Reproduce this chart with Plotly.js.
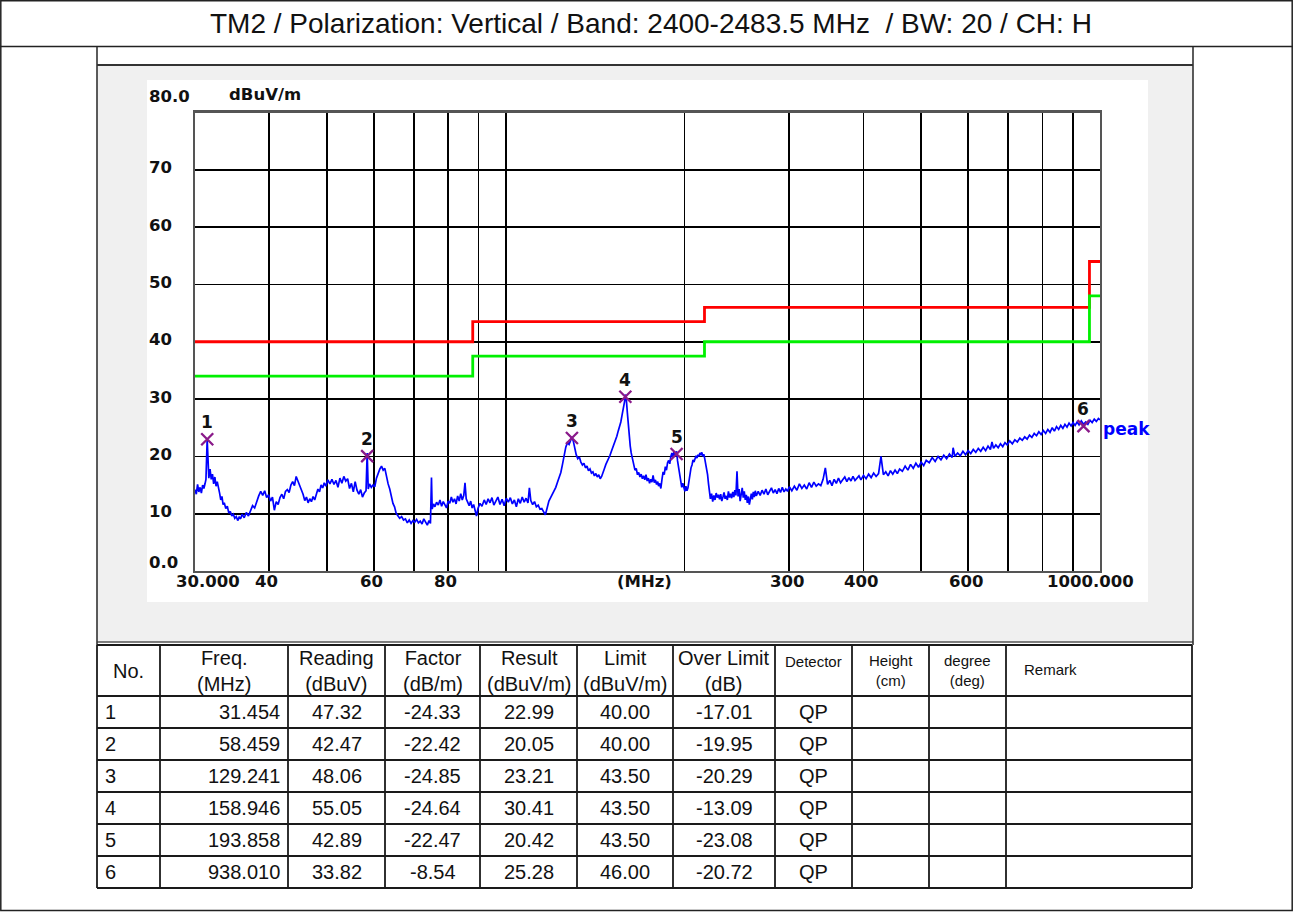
<!DOCTYPE html>
<html>
<head>
<meta charset="utf-8">
<script src="https://cdn.plot.ly/plotly-3.0.1.min.js"></script>
<style>html,body{margin:0;padding:0;background:#fff;}#chart{width:1293px;height:912px;}</style>
</head>
<body>
<div id="chart"></div>
<script>
// ---------------- DATA ----------------
const chartTitle = 'TM2 / Polarization: Vertical / Band: 2400-2483.5 MHz  / BW: 20 / CH: H';

// scanned peak trace: [frequency MHz, level dBuV/m]
const scanPoints = [
[30.0,14.2],[30.15,13.4],[30.3,15.1],[30.45,13.8],[30.6,14.6],[30.75,13.6],[30.9,15.0],[31.05,14.4],[31.2,15.3],[31.3,16.0],
[31.45,23.0],[31.55,18.5],[31.65,16.2],[31.8,17.8],[31.95,16.0],[32.1,16.9],[32.25,15.2],[32.4,16.4],[32.55,14.8],[32.7,15.6],
[32.85,14.2],[33.0,13.6],[33.15,12.4],[33.3,13.0],[33.45,11.6],[33.6,11.9],[33.8,10.9],[34.0,11.3],[34.2,10.1],[34.4,10.4],
[34.6,9.6],[34.8,9.9],[35.0,9.2],[35.2,9.5],[35.4,8.8],[35.6,9.4],[35.8,9.1],[36.0,9.9],[36.3,9.3],[36.6,10.2],
[36.9,9.6],[37.2,10.5],[37.5,11.4],[37.8,11.0],[38.1,12.3],[38.4,13.1],[38.7,13.9],[39.0,13.2],[39.3,14.0],[39.6,12.8],
[39.9,13.3],[40.2,12.2],[40.5,12.9],[40.8,10.6],[41.1,12.1],[41.4,11.6],[41.7,12.8],[42.0,13.4],[42.3,12.6],[42.6,13.9],
[42.9,14.2],[43.2,13.7],[43.5,15.0],[43.8,15.6],[44.1,14.9],[44.4,16.5],[44.7,15.7],[45.0,15.0],[45.3,14.2],[45.6,13.4],
[45.9,12.3],[46.2,12.9],[46.5,11.9],[46.8,12.6],[47.1,12.1],[47.4,13.0],[47.7,12.4],[48.0,13.6],[48.3,14.3],[48.6,13.8],
[48.9,15.0],[49.2,14.5],[49.5,15.4],[49.8,14.8],[50.2,15.9],[50.6,15.2],[51.0,16.0],[51.4,15.1],[51.8,15.8],[52.2,14.6],
[52.6,16.2],[53.0,15.3],[53.4,16.5],[53.8,15.7],[54.2,16.1],[54.6,14.4],[55.0,15.3],[55.4,13.8],[55.8,15.6],[56.2,14.1],
[56.6,13.4],[57.0,14.2],[57.4,12.9],[57.8,13.6],[58.2,14.0],[58.46,20.6],[58.7,14.3],[59.0,15.2],[59.4,14.6],[59.8,15.0],
[60.2,14.7],[60.6,16.2],[61.0,17.1],[61.4,17.8],[61.8,18.3],[62.2,17.6],[62.6,17.9],[63.0,16.4],[63.4,15.2],[63.8,14.3],
[64.2,13.0],[64.6,11.8],[65.0,11.2],[65.4,10.1],[65.8,9.7],[66.3,9.2],[66.8,9.5],[67.3,8.9],[67.8,9.1],[68.3,8.4],
[68.8,8.9],[69.3,8.3],[69.8,8.8],[70.3,8.5],[70.8,9.0],[71.3,8.4],[71.8,8.7],[72.3,8.2],[72.8,9.1],[73.3,8.5],
[73.8,8.0],[74.3,8.8],[74.7,8.3],[75.0,16.3],[75.2,10.8],[75.6,11.7],[76.0,11.2],[76.5,12.0],[77.0,11.5],[77.5,12.4],
[78.0,11.3],[78.5,12.1],[79.0,11.6],[79.5,11.0],[80.0,12.2],[80.5,11.8],[81.0,12.9],[81.5,12.0],[82.0,12.6],[82.5,11.7],
[83.0,13.1],[83.5,12.2],[84.0,13.5],[84.5,12.4],[85.0,13.2],[85.4,15.4],[85.8,12.6],[86.3,12.0],[86.8,11.4],[87.3,12.2],
[87.8,11.0],[88.3,11.6],[88.8,10.5],[89.3,9.6],[89.8,10.9],[90.5,11.8],[91.2,11.3],[92.0,12.4],[92.7,11.6],[93.4,12.6],
[94.1,11.9],[94.8,12.8],[95.5,11.5],[96.2,12.3],[97.0,12.9],[97.8,11.6],[98.6,12.5],[99.4,11.4],[100.2,12.7],[101.0,12.0],
[101.8,12.8],[102.6,11.7],[103.4,12.4],[104.2,11.2],[105.0,12.6],[105.8,11.8],[106.6,12.9],[107.4,12.0],[108.2,12.7],[109.0,11.9],
[109.6,14.5],[110.2,12.3],[111.0,11.6],[111.8,12.1],[112.6,11.2],[113.4,11.5],[114.2,10.8],[115.0,10.9],[115.8,10.3],[116.6,9.8],
[117.4,11.0],[118.2,12.2],[119.0,12.8],[119.8,13.4],[120.6,14.1],[121.4,14.6],[122.2,15.5],[123.0,16.4],[123.8,17.2],[124.6,18.6],
[125.4,20.3],[126.2,21.6],[127.0,22.4],[127.8,22.1],[128.6,22.8],[129.2,23.4],[129.9,22.7],[130.6,21.5],[131.4,20.3],[132.2,19.6],
[133.0,19.9],[133.8,19.0],[134.6,18.5],[135.4,18.8],[136.2,18.0],[137.0,18.3],[137.8,17.5],[138.6,17.8],[139.4,17.1],[140.2,17.3],
[141.0,16.6],[141.8,17.0],[142.6,16.4],[143.4,16.8],[144.2,16.1],[145.0,16.5],[145.8,17.4],[146.6,17.9],[147.4,18.6],[148.2,19.1],
[149.0,19.6],[149.8,20.2],[150.6,20.9],[151.4,21.5],[152.2,22.1],[153.0,22.9],[153.8,23.5],[154.6,24.4],[155.4,25.1],[156.2,26.0],
[157.0,27.3],[157.8,28.4],[158.5,29.6],[158.95,30.8],[159.6,29.8],[160.2,27.6],[160.8,25.4],[161.4,23.5],[162.0,21.8],[162.6,20.6],
[163.2,19.8],[163.8,18.7],[164.4,18.2],[165.0,17.6],[165.8,17.9],[166.6,16.8],[167.4,17.2],[168.2,16.4],[169.0,16.9],[169.8,16.1],
[170.6,16.6],[171.4,15.9],[172.2,16.8],[173.0,15.7],[173.8,16.2],[174.6,15.3],[175.4,16.0],[176.2,15.5],[177.0,16.7],[177.8,15.4],
[178.6,15.9],[179.4,15.1],[180.2,15.6],[180.8,14.8],[181.6,15.3],[182.4,14.4],[183.2,16.0],[184.0,17.3],[184.8,16.8],[185.6,18.2],
[186.4,17.6],[187.2,18.9],[188.0,19.3],[188.8,18.7],[189.6,20.0],[190.4,20.6],[191.2,19.8],[192.0,20.9],[192.8,20.3],[193.86,20.9],
[194.6,19.2],[195.4,17.8],[196.2,16.4],[197.0,15.2],[197.8,14.6],[198.6,15.3],[199.4,14.2],[200.2,13.9],[201.0,14.8],[201.8,14.0],
[202.6,14.5],[203.4,15.8],[204.2,17.1],[205.0,18.0],[205.8,18.5],[206.6,19.4],[207.4,19.0],[208.2,19.8],[209.0,20.1],[209.8,19.7],
[210.6,20.3],[211.4,20.0],[212.2,20.6],[213.0,20.2],[213.8,20.7],[214.6,20.0],[215.4,20.4],[216.2,19.6],[217.0,18.8],[217.8,17.9],
[218.6,16.8],[219.4,15.2],[220.2,13.9],[221.0,12.6],[222.0,13.5],[223.0,12.1],[224.0,13.2],[225.0,12.4],[226.0,13.6],[227.0,12.8],
[228.0,13.3],[229.0,12.5],[230.0,13.4],[231.0,12.2],[232.0,12.9],[233.0,13.7],[234.0,12.6],[235.0,13.1],[236.0,12.4],[237.0,13.9],
[238.0,12.8],[239.0,13.5],[240.0,12.7],[241.0,13.8],[242.0,12.9],[243.0,14.1],[244.0,13.2],[245.0,17.4],[246.0,13.0],[247.0,14.3],
[248.0,12.2],[249.0,13.7],[250.0,14.5],[251.0,12.8],[252.0,13.9],[253.0,12.4],[254.0,13.3],[255.0,11.9],[256.0,13.0],[257.0,11.6],
[258.0,12.7],[259.0,13.5],[260.0,12.5],[261.0,13.8],[262.0,12.9],[263.0,14.0],[264.0,13.1],[266,13.9],[268,13.2],[270,14.1],
[272,13.4],[274,14.3],[276,13.3],[278,13.9],[280,14.5],[282,13.6],[284,14.2],[286,13.5],[288,14.4],[290,13.7],
[292,14.6],[294,13.8],[296,14.3],[298,13.9],[300,14.7],[303,14.0],[306,14.8],[309,14.1],[312,15.2],[315,14.4],
[318,15.0],[321,14.3],[324,15.4],[327,14.6],[330,15.5],[333,14.8],[336,15.2],[339,14.9],[342,16.0],[345,18.0],
[348,15.1],[351,15.8],[354,14.9],[357,16.0],[360,15.3],[363,16.2],[366,15.4],[369,15.9],[372,16.4],[375,15.6],
[378,16.3],[381,15.7],[384,16.5],[387,15.8],[390,16.2],[393,16.6],[396,15.9],[400,16.7],[404,16.1],[408,16.9],
[412,16.3],[416,17.1],[420,16.5],[424,17.0],[428,20.0],[432,16.8],[436,17.3],[440,16.6],[444,17.5],[448,16.9],
[452,17.6],[456,17.0],[460,17.8],[465,17.4],[470,18.3],[475,17.6],[480,18.6],[485,17.9],[490,18.8],[495,18.1],
[500,19.0],[505,18.4],[510,19.3],[516,18.9],[522,19.8],[528,19.1],[534,20.0],[540,19.4],[546,20.2],[552,19.6],
[558,20.4],[564,19.8],[566,21.5],[570,20.0],[576,20.6],[582,20.1],[588,20.9],[594,20.3],[600,21.0],[606,20.5],
[612,21.2],[618,20.7],[624,21.4],[630,20.9],[636,21.6],[642,21.0],[648,21.8],[654,21.2],[658,22.5],[662,21.4],
[668,22.0],[674,21.5],[680,22.2],[686,21.7],[692,22.4],[698,22.0],[705,22.7],[712,22.2],[719,22.9],[726,22.5],
[733,23.2],[740,22.8],[747,23.4],[754,23.0],[761,23.7],[768,23.3],[775,24.0],[782,23.6],[789,24.3],[796,23.8],
[803,24.5],[810,24.0],[817,24.7],[824,24.2],[831,25.0],[838,24.4],[845,25.2],[852,24.7],[859,25.4],[866,24.9],
[873,25.6],[880,25.1],[887,25.8],[894,25.3],[901,25.9],[908,25.4],[915,26.0],[922,25.5],[930,26.2],[938.01,25.6],
[946,26.0],[954,25.6],[962,26.3],[970,25.9],[978,26.5],[986,26.1],[994,26.6],[1000,26.4]
];
const scanFreq = scanPoints.map(p => p[0]);
const scanLevel = scanPoints.map(p => p[1]);

// limit lines
const limitFreq = [30, 88, 216, 960, 1000];
const limitQP = [40, 43.5, 46, 54, 54];
const limitMargin = [34, 37.5, 40, 48, 48];

// axis ticks
const xGridFreqs = [40, 50, 60, 70, 80, 90, 100, 200, 300, 400, 500, 600, 700, 800, 900];
const xLabelFreqs = [30, 40, 60, 80, 300, 400, 600, 1000];
const xLabelText = ['30.000', '40', '60', '80', '300', '400', '600', '1000.000'];
const yGridVals = [10, 20, 30, 40, 50, 60, 70];
const yLabelVals = [80, 70, 60, 50, 40, 30, 20, 10, 0];
const yLabelText = ['80.0', '70', '60', '50', '40', '30', '20', '10', '0.0'];

// result table
const tableHeaders = ['No.', 'Freq.<br>(MHz)', 'Reading<br>(dBuV)', 'Factor<br>(dB/m)', 'Result<br>(dBuV/m)', 'Limit<br>(dBuV/m)', 'Over Limit<br>(dB)', 'Detector', 'Height<br>(cm)', 'degree<br>(deg)', 'Remark'];
const tableNo = ['1', '2', '3', '4', '5', '6'];
const tableFreq = ['31.454', '58.459', '129.241', '158.946', '193.858', '938.010'];
const tableReading = ['47.32', '42.47', '48.06', '55.05', '42.89', '33.82'];
const tableFactor = ['-24.33', '-22.42', '-24.85', '-24.64', '-22.47', '-8.54'];
const tableResult = ['22.99', '20.05', '23.21', '30.41', '20.42', '25.28'];
const tableLimit = ['40.00', '40.00', '43.50', '43.50', '43.50', '46.00'];
const tableOver = ['-17.01', '-19.95', '-20.29', '-13.09', '-23.08', '-20.72'];
const tableDetector = ['QP', 'QP', 'QP', 'QP', 'QP', 'QP'];

// ---------------- LAYOUT HELPERS ----------------
const W = 1293, H = 912;
const px = x => x / W;
const py = y => 1 - y / H;
const BOLD = 'DejaVu Sans';
const SANS = 'Liberation Sans, Arial, sans-serif';

const markerFreq = tableFreq.map(Number);
const markerLevel = tableResult.map(Number);

const traces = [
  {x: limitFreq, y: limitQP, mode: 'lines', line: {color: '#ff0000', width: 2.8, shape: 'hv'}, hoverinfo: 'skip'},
  {x: limitFreq, y: limitMargin, mode: 'lines', line: {color: '#00f000', width: 2.8, shape: 'hv'}, hoverinfo: 'skip'},
  {x: scanFreq, y: scanLevel, mode: 'lines', line: {color: '#0000ff', width: 1.7}, hoverinfo: 'skip'},
  {x: markerFreq, y: markerLevel, mode: 'markers', marker: {symbol: 'x-thin-open', size: 12, color: '#8a1a8a', line: {color: '#8a1a8a', width: 2.3}}, hoverinfo: 'skip'}
];

const shapes = [];
const line = (x0, y0, x1, y1, color, width) => shapes.push({type: 'line', xref: 'paper', yref: 'paper', x0: px(x0), y0: py(y0), x1: px(x1), y1: py(y1), line: {color: color, width: width}, layer: 'below'});
// outer frame and title separator
shapes.push({type: 'rect', xref: 'paper', yref: 'paper', x0: px(0.8), y0: py(0.8), x1: px(1292.2), y1: py(910.5), line: {color: '#222', width: 1.5}, layer: 'below'});
line(0, 46.5, 1293, 46.5, '#222', 1.5);
// grey chart panel
shapes.push({type: 'rect', xref: 'paper', yref: 'paper', x0: px(97), y0: py(65), x1: px(1193), y1: py(642), fillcolor: '#f0f0f0', line: {width: 0}, layer: 'below'});
line(97, 65, 1193, 65, '#333', 2);
line(97, 642, 1193, 642, '#555', 1.5);
line(97, 47, 97, 645, '#333', 1.6);
line(1193, 47, 1193, 645, '#333', 1.6);
// white chart image
shapes.push({type: 'rect', xref: 'paper', yref: 'paper', x0: px(147), y0: py(80), x1: px(1148), y1: py(602), fillcolor: '#ffffff', line: {width: 0}, layer: 'below'});

// table grid
const colEdges = [97, 160, 288, 385, 480, 577, 673, 775, 852, 929, 1006, 1192];
const rowEdges = [645, 696, 728, 760, 792, 824, 856, 888];
colEdges.forEach(x => line(x, 645, x, 888, '#1a1a1a', 1.8));
rowEdges.forEach(y => line(97, y, 1192, y, '#1a1a1a', 1.8));

const annotations = [];
const txt = (o) => annotations.push(Object.assign({showarrow: false, xref: 'paper', yref: 'paper'}, o));

// title
txt({x: px(651), y: py(23), xanchor: 'center', yanchor: 'middle', text: chartTitle, font: {family: SANS, size: 28, color: '#111'}});

// y labels
const axisFont = {family: BOLD, size: 16.5, color: '#111', weight: 'bold'};
yLabelVals.forEach((v, i) => {
  let shift = 2;
  if (v === 80) shift = 16;
  if (v === 0) shift = 9;
  txt({xref: 'paper', x: px(147), yref: 'y', y: v, xanchor: 'left', yanchor: 'middle', yshift: shift, text: yLabelText[i], font: axisFont});
});
txt({x: px(227), y: py(95), xanchor: 'left', yanchor: 'middle', text: 'dBuV/m', font: axisFont});
// x labels
xLabelFreqs.forEach((f, i) => {
  let shift = -2.5;
  if (f === 30) shift = 13;
  if (f === 1000) shift = -10;
  txt({xref: 'x', x: Math.log10(f), yref: 'paper', y: py(581), xanchor: 'center', yanchor: 'middle', xshift: shift, text: xLabelText[i], font: axisFont});
});
txt({x: px(644), y: py(581), xanchor: 'center', yanchor: 'middle', text: '(MHz)', font: axisFont});

// marker numbers
markerFreq.forEach((f, i) => {
  txt({xref: 'x', x: Math.log10(f), yref: 'y', y: markerLevel[i], xanchor: 'center', yanchor: 'middle', yshift: 17, text: tableNo[i], font: {family: BOLD, size: 17, color: '#111', weight: 'bold'}});
});
// trace label
txt({xref: 'x', x: Math.log10(scanFreq[scanFreq.length - 1]), yref: 'y', y: scanLevel[scanLevel.length - 1], xanchor: 'left', yanchor: 'middle', xshift: 1, yshift: -9, text: 'peak', font: {family: BOLD, size: 17, color: '#0000ff', weight: 'bold'}});

// table header
const smallHead = {7: true, 8: true, 9: true, 10: true};
tableHeaders.forEach((h, c) => {
  const cx = (colEdges[c] + colEdges[c + 1]) / 2;
  let y = 670.5, size = 20, xa = 'center', x = cx;
  if (smallHead[c]) size = 15;
  if (c === 7) y = 661;
  if (c === 10) { xa = 'left'; x = 1022; y = 669; }
  txt({x: px(x), y: py(y), xanchor: xa, yanchor: 'middle', text: h, font: {family: SANS, size: size, color: '#111'}});
});
// table rows
const tableColumns = [tableNo, tableFreq, tableReading, tableFactor, tableResult, tableLimit, tableOver, tableDetector];
const colAlign = ['left', 'right', 'center', 'center', 'center', 'center', 'center', 'center'];
tableColumns.forEach((col, c) => {
  col.forEach((val, r) => {
    const yc = (rowEdges[r + 1] + rowEdges[r + 2]) / 2;
    let x = (colEdges[c] + colEdges[c + 1]) / 2;
    if (colAlign[c] === 'left') x = colEdges[c] + 6;
    if (colAlign[c] === 'right') x = colEdges[c + 1] - 6;
    txt({x: px(x), y: py(yc), xanchor: colAlign[c], yanchor: 'middle', text: val, font: {family: SANS, size: 20, color: '#111'}});
  });
});

const layout = {
  width: W, height: H,
  margin: {l: 0, r: 0, t: 0, b: 0},
  paper_bgcolor: '#ffffff', plot_bgcolor: '#ffffff',
  showlegend: false,
  xaxis: {type: 'log', domain: [px(195), px(1100)], range: [Math.log10(30), 3], tickvals: xGridFreqs, showticklabels: false, ticks: '',
          showgrid: true, gridcolor: '#000', gridwidth: 1.7, zeroline: false, showline: true, mirror: true, linecolor: '#555', linewidth: 2.2, fixedrange: true},
  yaxis: {domain: [py(571), py(112.5)], range: [0, 80], tickvals: yGridVals, showticklabels: false, ticks: '',
          showgrid: true, gridcolor: '#000', gridwidth: 1.7, zeroline: false, showline: true, mirror: true, linecolor: '#555', linewidth: 2.2, fixedrange: true},
  shapes: shapes,
  annotations: annotations
};

Plotly.newPlot('chart', traces, layout, {displayModeBar: false, staticPlot: true});
</script>
</body>
</html>
